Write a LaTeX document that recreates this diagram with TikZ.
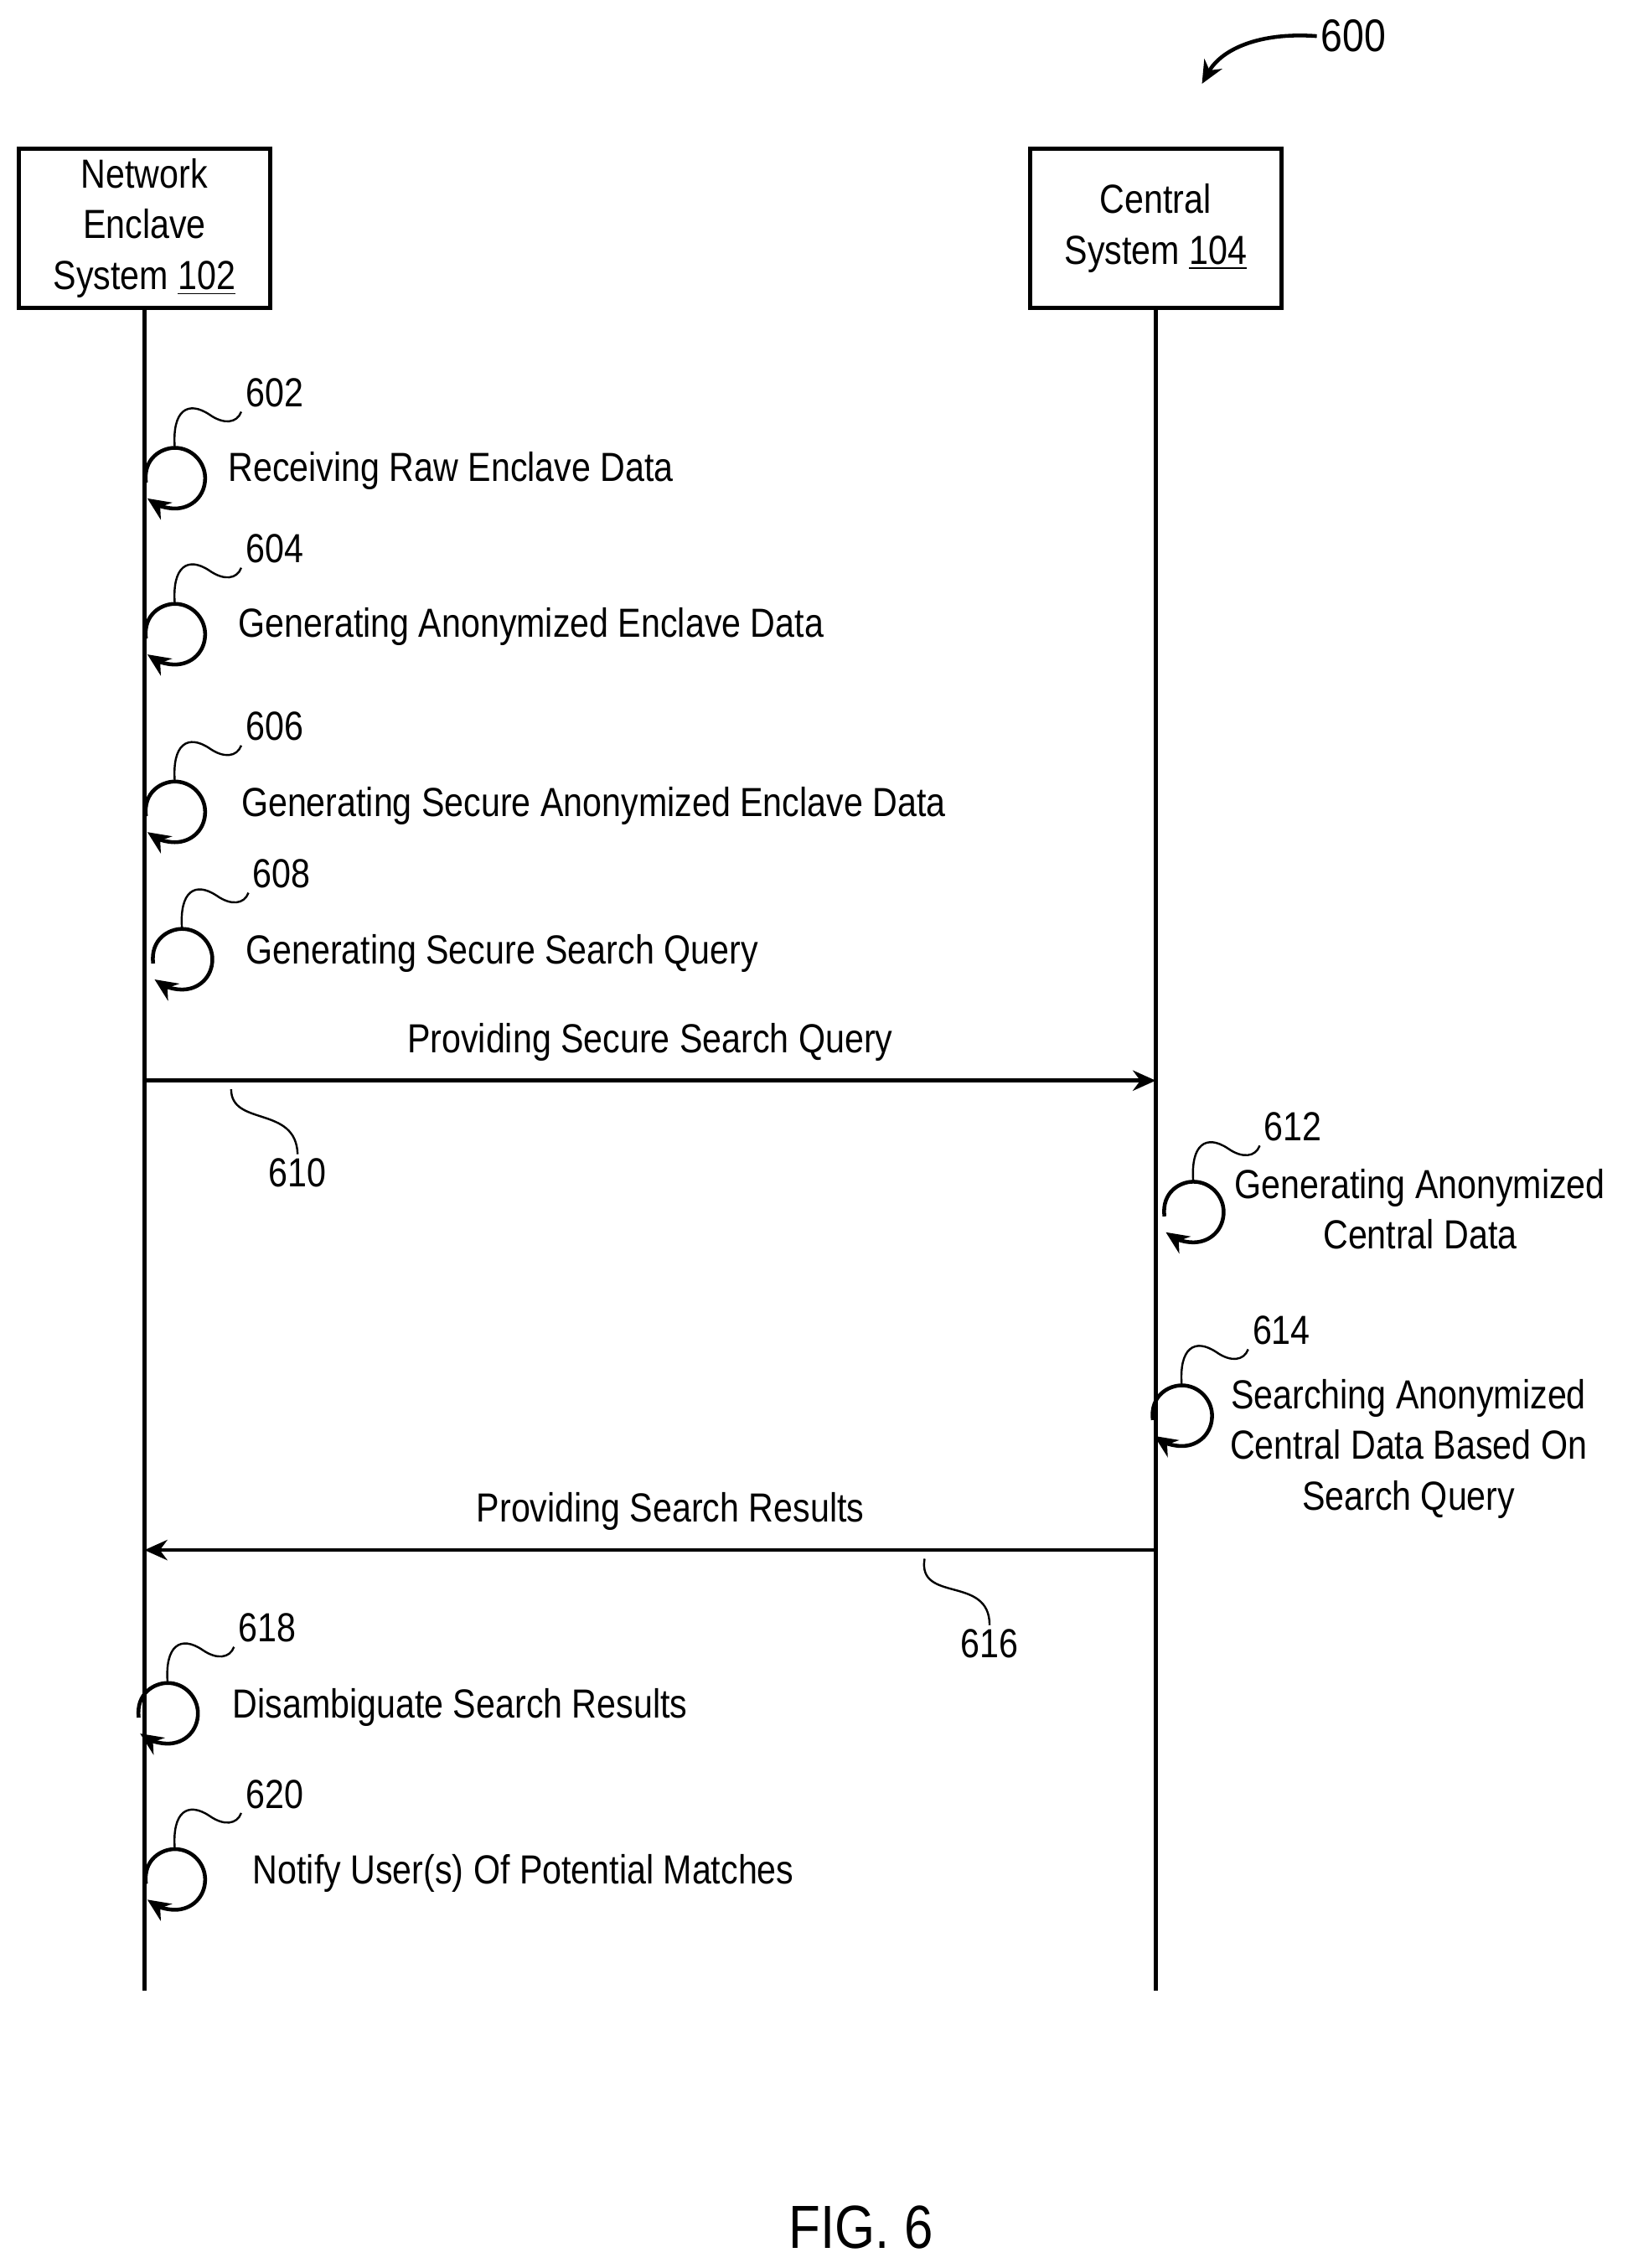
\documentclass[tikz,border=0pt]{standalone}
\usepackage{fontspec}
\setmainfont[FakeStretch=0.85]{Liberation Sans}
\usetikzlibrary{positioning,arrows.meta}

% self message loop with its reference number
\newcommand{\steploop}[4]{%
  \coordinate (#1t) at (#2+21,#3-19);
  \coordinate (#1e) at (#2+2,#3+16);
  \draw[->] (#2+1,#3+5) .. controls (#2-1,#3-12) and (#2+12,#3-19) .. (#1t)
    .. controls (#2+33,#3-19) and (#2+42,#3-9) .. (#2+42,#3+2)
    .. controls (#2+42,#3+14) and (#2+33,#3+23) .. (#2+21,#3+23)
    .. controls (#2+14,#3+23) and (#2+8,#3+20) .. (#1e);
  \node[ref] (#1) at (#2+90,#3-57) {#4};
  \draw[leader] (#1t) .. controls (#2+19,#3-45) and (#2+30,#3-52) .. (#2+45,#3-42)
    .. controls (#2+55,#3-35) and (#2+64,#3-36) .. (#1.south west);
}

\begin{document}
\begin{tikzpicture}[x=0.02cm, y=-0.02cm, line width=1.5pt, >={Stealth[length=9pt,width=8pt]},
    lbl/.style = {font=\fontsize{16}{20}\selectfont, inner sep=1pt},
    ref/.style = {font=\fontsize{16}{20}\selectfont, inner sep=1pt},
    leader/.style = {line width=0.8pt},
    actor/.style = {draw, minimum width=3.48cm, minimum height=2.2cm, align=center, font=\fontsize{16}{20}\selectfont}]
  \useasboundingbox (0,0) rectangle (1130,1570);

  \node[actor] (N) at (100,158) {Network\\Enclave\\System \underline{102}};
  \node[actor] (C) at (800,158) {Central\\System \underline{104}};
  \coordinate (Nend) at (100,1378);
  \coordinate (Cend) at (800,1378);
  \draw (N.south) -- (Nend);
  \draw (C.south) -- (Cend);

  \steploop{s602}{100}{329}{602}
  \node[lbl, anchor=west] (t602) at (155,326) {Receiving Raw Enclave Data};
  \steploop{s604}{100}{437}{604}
  \node[lbl, anchor=west] (t604) at (162,434) {Generating Anonymized Enclave Data};
  \steploop{s606}{100}{560}{606}
  \node[lbl, anchor=west] (t606) at (164,558) {Generating Secure Anonymized Enclave Data};
  \steploop{s608}{105}{662}{608}
  \node[lbl, anchor=west] (t608) at (167,660) {Generating Secure Search Query};

  \coordinate (q1) at (100,748);
  \coordinate (q2) at (800,748);
  \draw[->] (q1) -- (q2) node[lbl, midway, above=6pt] {Providing Secure Search Query};
  \node[ref] (r610) at (206,812) {610};
  \draw[leader] (160,754) .. controls (160,780) and (205,765) .. (r610.north);

  \steploop{s612}{805}{837}{612}
  \node[lbl, align=center] (t612) at (983,837) {Generating Anonymized\\Central Data};
  \steploop{s614}{797}{978}{614}
  \node[lbl, align=center] (t614) at (975,1003) {Searching Anonymized\\Central Data Based On\\Search Query};

  \coordinate (p1) at (800,1073);
  \coordinate (p2) at (100,1073);
  \draw[->] (p1) -- (p2) node[lbl, midway, above=6pt, xshift=8pt] {Providing Search Results};
  \node[ref] (r616) at (685,1138) {616};
  \draw[leader] (640,1079) .. controls (635,1110) and (685,1090) .. (r616.north);

  \steploop{s618}{95}{1184}{618}
  \node[lbl, anchor=west] (t618) at (158,1182) {Disambiguate Search Results};
  \steploop{s620}{100}{1299}{620}
  \node[lbl, anchor=west] (t620) at (172,1297) {Notify User(s) Of Potential Matches};

  \node[ref, font=\fontsize{18}{22}\selectfont] (r600) at (937,25) {600};
  \draw[->] (r600.west) .. controls (870,22) and (845,35) .. (832,58);

  \node[font=\fontsize{24}{28}\selectfont] (fig) at (596,1542) {FIG. 6};
\end{tikzpicture}
\end{document}
